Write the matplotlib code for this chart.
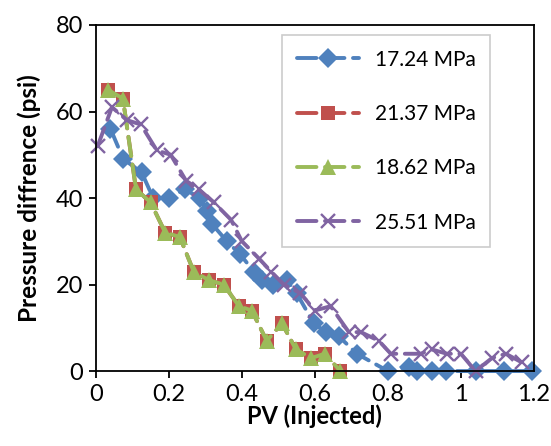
import matplotlib
matplotlib.use('Agg')
import matplotlib.pyplot as plt
from matplotlib.ticker import FuncFormatter

# data
pv_1724 = [0.04, 0.075, 0.125, 0.157, 0.2, 0.244, 0.285, 0.304, 0.318, 0.359, 0.395,
           0.433, 0.455, 0.485, 0.523, 0.55, 0.597, 0.63, 0.666, 0.715, 0.8, 0.858,
           0.879, 0.92, 0.959, 1.04, 1.118, 1.195]
dp_1724 = [56, 49, 46, 40, 40, 42, 40, 37, 34, 30, 27,
           23, 21, 20, 21, 18, 11, 9, 8, 4, 0, 1,
           0, 0, 0, 0, 0, 0]

pv_2137 = [0.033, 0.074, 0.11, 0.15, 0.19, 0.23, 0.268, 0.31, 0.35, 0.392, 0.427,
           0.468, 0.51, 0.548, 0.59, 0.627, 0.67]
dp_2137 = [65, 63, 42, 39, 32, 31, 23, 21, 20, 15, 14, 7, 11, 5, 3, 4, 0]

pv_1862 = [0.033, 0.074, 0.11, 0.15, 0.19, 0.23, 0.268, 0.31, 0.35, 0.392, 0.427,
           0.468, 0.51, 0.548, 0.59, 0.627, 0.67]
dp_1862 = [65, 63, 42, 39, 32, 31, 23, 21, 20, 15, 14, 7, 11, 5, 3, 4, 0]

pv_2551 = [0.005, 0.044, 0.085, 0.123, 0.167, 0.205, 0.247, 0.282, 0.323, 0.37, 0.4,
           0.447, 0.48, 0.515, 0.56, 0.6, 0.643, 0.693, 0.726, 0.775, 0.808, 0.89,
           0.92, 0.962, 1.0, 1.04, 1.085, 1.123, 1.167]
dp_2551 = [52, 61, 58, 57, 51, 50, 44, 42, 39, 35, 30,
           26, 23, 20, 18, 14, 15, 9, 9, 7, 4, 4,
           5, 4, 4, 0, 3, 4, 2]

labels = ['17.24 MPa', '21.37 MPa', '18.62 MPa', '25.51 MPa']

plt.rcParams['font.family'] = ['Lato', 'DejaVu Sans']

fig = plt.figure(figsize=(5.51, 4.46), dpi=100)
ax = fig.add_axes([0.174, 0.168, 0.795, 0.776])

common = dict(linewidth=2.8, dashes=(5, 2.2), dash_capstyle='round', clip_on=False)
ax.plot(pv_1724, dp_1724, color='#4F81BD', marker='D', markersize=10.5,
        markeredgewidth=0, label=labels[0], **common)
ax.plot(pv_2137, dp_2137, color='#C0504D', marker='s', markersize=10,
        markeredgewidth=0, label=labels[1], **common)
ax.plot(pv_1862, dp_1862, color='#9BBB59', marker='^', markersize=11,
        markeredgewidth=0, label=labels[2], **common)
ax.plot(pv_2551, dp_2551, color='#8064A2', marker='x', markersize=10.5,
        markeredgewidth=1.7, label=labels[3], **common)

ax.set_xlim(0, 1.2)
ax.set_ylim(0, 80)
ax.set_xticks([0, 0.2, 0.4, 0.6, 0.8, 1.0, 1.2])
ax.set_yticks([0, 20, 40, 60, 80])
ax.xaxis.set_major_formatter(FuncFormatter(lambda v, p: f'{v:g}'))
ax.tick_params(direction='out', length=5, width=1.3, labelsize=17, pad=4)

for s in ax.spines.values():
    s.set_linewidth(1.3)
    s.set_color('black')

ax.set_xlabel('PV (Injected)', fontsize=17, fontweight='bold', labelpad=0)
ax.set_ylabel('Pressure diffrence (psi)', fontsize=17.5, fontweight='bold', labelpad=11)

leg = ax.legend(loc='upper left', bbox_to_anchor=(0.425, 0.971), fontsize=15,
                handlelength=3.0, labelspacing=1.65, borderpad=0.7,
                borderaxespad=0, handletextpad=0.75, fancybox=False, frameon=True)
leg.get_frame().set_edgecolor('#BFBFBF')
leg.get_frame().set_linewidth(1.2)

fig.savefig('out.png', dpi=100)
